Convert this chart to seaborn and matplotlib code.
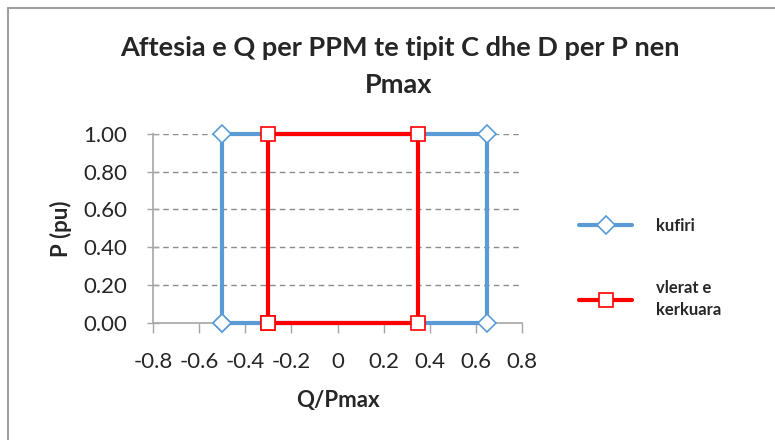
import pandas as pd
import matplotlib.pyplot as plt
import seaborn as sns
from matplotlib.lines import Line2D

# Capability limits (Q/Pmax vs P)
kufiri_q = [-0.5, -0.5, 0.65, 0.65, -0.5]
kufiri_p = [0.0, 1.0, 1.0, 0.0, 0.0]

vlerat_q = [-0.3, -0.3, 0.35, 0.35, -0.3]
vlerat_p = [0.0, 1.0, 1.0, 0.0, 0.0]

x_ticks = [-0.8, -0.6, -0.4, -0.2, 0, 0.2, 0.4, 0.6, 0.8]
x_tick_labels = ["-0.8", "-0.6", "-0.4", "-0.2", "0", "0.2", "0.4", "0.6", "0.8"]
y_ticks = [0.0, 0.2, 0.4, 0.6, 0.8, 1.0]
y_tick_labels = ["0.00", "0.20", "0.40", "0.60", "0.80", "1.00"]

df_k = pd.DataFrame({"Q": kufiri_q, "P": kufiri_p})
df_v = pd.DataFrame({"Q": vlerat_q, "P": vlerat_p})

sns.set_theme(style="white")
plt.rcParams['font.family'] = ['Lato', 'DejaVu Sans']

fig = plt.figure(figsize=(7.75, 4.4), dpi=100)
ax = fig.add_axes([153 / 775, 1 - 322.7 / 440, 369 / 775, 188.7 / 440])

grey = "#a6a6a6"
for yt in y_ticks[1:]:
    ax.axhline(yt, color="#8c8c8c", lw=1.0, ls=(0, (4, 3)), zorder=0)

sns.lineplot(data=df_k, x="Q", y="P", sort=False, estimator=None, ax=ax,
             color="#5b9bd5", lw=3, marker="D", markersize=9.5,
             markerfacecolor="white", markeredgecolor="#5b9bd5",
             markeredgewidth=1.2, clip_on=False, label="kufiri", zorder=3)
sns.lineplot(data=df_v, x="Q", y="P", sort=False, estimator=None, ax=ax,
             color="#ff0000", lw=3, marker="s", markersize=10.5,
             markerfacecolor="white", markeredgecolor="#ff0000",
             markeredgewidth=1.2, clip_on=False, label="vlerat e\nkerkuara", zorder=4)

ax.set_xlim(-0.8, 0.8)
ax.set_ylim(0, 1.0)
ax.set_xticks(x_ticks)
ax.set_xticklabels(x_tick_labels)
ax.set_yticks(y_ticks)
ax.set_yticklabels(y_tick_labels)
ax.tick_params(axis="x", direction="out", length=7, width=1, color=grey,
               labelsize=16, pad=14)
ax.tick_params(axis="y", direction="inout", length=9, width=1, color=grey,
               labelsize=16, pad=14)
ax.tick_params(bottom=True, left=True)

for s in ["top", "right"]:
    ax.spines[s].set_visible(False)
for s in ["left", "bottom"]:
    ax.spines[s].set_color(grey)
    ax.spines[s].set_linewidth(1.2)

ax.set_xlabel("Q/Pmax", fontsize=16, fontweight="bold", labelpad=13)
ax.set_ylabel("P (pu)", fontsize=16, fontweight="bold", labelpad=8)

fig.text(400 / 775, 1 - 48 / 440, "Aftesia e Q per PPM te tipit C dhe D per P nen",
         ha="center", va="center", fontsize=19.5, fontweight="bold")
fig.text(399 / 775, 1 - 85 / 440, "Pmax",
         ha="center", va="center", fontsize=19.5, fontweight="bold")

leg = ax.legend(loc="center left", bbox_to_anchor=(579 / 775, 1 - 268 / 440),
                bbox_transform=fig.transFigure, frameon=False, borderpad=0,
                borderaxespad=0, handlelength=3.2, handletextpad=1.4,
                labelspacing=2.8,
                prop={"family": "Lato", "weight": "bold", "size": 12})
leg.get_texts()[1].set_linespacing(1.45)

# chart frame (partially cropped on the right/bottom)
fig.add_artist(Line2D([8 / 775, 8 / 775], [0, 1 - 8 / 440], transform=fig.transFigure,
                      color="#a0a0a0", lw=1.5))
fig.add_artist(Line2D([8 / 775, 1], [1 - 8 / 440, 1 - 8 / 440], transform=fig.transFigure,
                      color="#a0a0a0", lw=1.5))

fig.savefig("out.png", dpi=100)
